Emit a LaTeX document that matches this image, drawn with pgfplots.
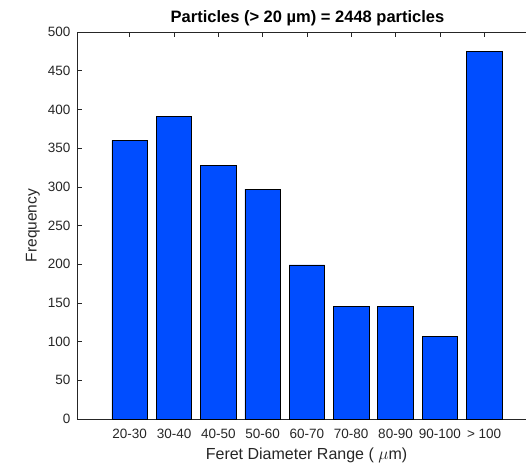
\documentclass[border=0pt]{standalone}
\usepackage{pgfplots}
\pgfplotsset{compat=1.18}
\usepackage{fontspec}
\setmainfont{Liberation Sans}
\definecolor{barblue}{RGB}{0,77,255}
\definecolor{axgray}{RGB}{38,38,38}
\begin{document}
\begin{tikzpicture}
\useasboundingbox (0,0) rectangle (526pt,466pt);
\begin{axis}[
  at={(77pt,47pt)}, anchor=south west,
  scale only axis, width=449pt, height=387pt,
  xmin=-0.19, xmax=9.946, ymin=0, ymax=500,
  axis x line*=box, axis y line*=left,
  axis line style={axgray, line width=0.6pt},
  tick align=inside, major tick length=5pt,
  tick style={axgray, line width=0.5pt},
  xtick={1,2,3,4,5,6,7,8,9},
  xticklabels={20-30,30-40,40-50,50-60,60-70,70-80,80-90,90-100,> 100},
  ytick={0,50,...,500},
  /pgf/number format/assume math mode=true,
  ticklabel style={font=\fontsize{13.5}{16}\selectfont, text=axgray},
  yticklabel style={xshift=-3pt},
  xticklabel style={yshift=-7pt},
  xlabel={Feret Diameter Range ( $\mu$m)},
  ylabel={Frequency},
  every axis x label/.style={font=\fontsize{16}{18}\selectfont, text=axgray, at={(rel axis cs:0.5,0)}, xshift=5pt, yshift=-36pt, anchor=center},
  every axis y label/.style={font=\fontsize{15.5}{18}\selectfont, text=axgray, at={(rel axis cs:0,0.5)}, xshift=-44pt, rotate=90, anchor=center},
  title={Particles (> 20 µm) = 2448 particles},
  title style={font=\bfseries\fontsize{16.5}{19}\selectfont, at={(rel axis cs:0.5,1)}, anchor=base, xshift=6pt, yshift=3.5pt},
]
\addplot[ybar, bar width=0.8, fill=barblue, draw=black, line width=0.6pt] coordinates {
  (1,360) (2,391) (3,328) (4,297) (5,199) (6,146) (7,145) (8,107) (9,475)
};
\end{axis}
\end{tikzpicture}
\end{document}
